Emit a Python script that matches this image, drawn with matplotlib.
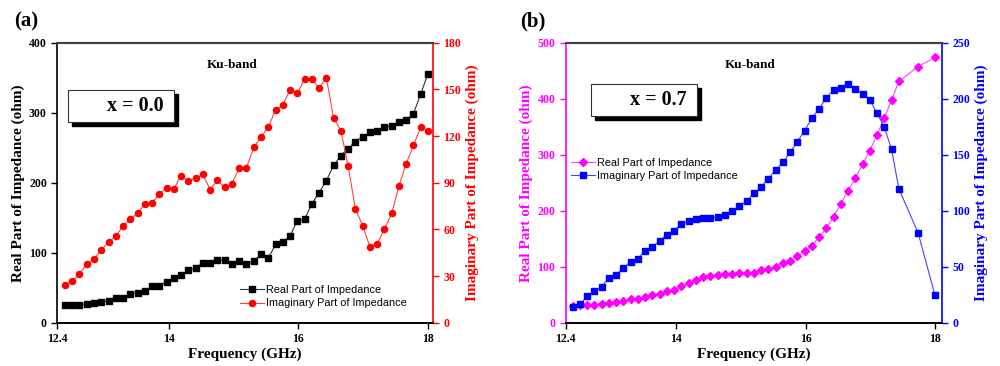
import numpy as np
import matplotlib
matplotlib.use('Agg')
import matplotlib.pyplot as plt
from matplotlib.patches import Rectangle

# frequency grid (GHz)
freq_a = np.linspace(12.4, 18.0, 51)
freq_b = list(np.linspace(12.4, 17.44, 46)) + [17.74, 18.0]

# (a) x = 0.0
real_a = [25, 26, 26, 27, 29, 30, 31, 35, 36, 41, 43, 46, 52, 53, 59, 64, 68,
          75, 78, 86, 86, 89.5, 90, 84, 89, 84, 88, 98, 92, 112, 115, 124,
          146, 148, 170, 186, 203, 225, 239, 249, 259, 266, 272, 274, 280,
          281, 287, 290, 299, 327, 356]
imag_a = [24.2, 26.8, 31.5, 37.5, 41.1, 46.7, 51.9, 55.5, 62.4, 66.6, 70.3,
          76.5, 77.1, 82.9, 86.6, 86.1, 94.7, 90.9, 92.8, 95.4, 85.7, 91.7,
          87, 89.4, 99.6, 99.6, 112.9, 119.4, 125.8, 136.7, 139.9, 149.6,
          147.6, 156.6, 156.6, 150.9, 157.5, 131.6, 123.6, 100.7, 73.3, 62.4,
          48.9, 50.8, 60.2, 70.3, 87.9, 102.4, 114, 126, 123.2]

# (b) x = 0.7
real_b = [29.8, 31, 31, 32.7, 34, 35.7, 36.3, 38.1, 41.7, 42.9, 46.4, 48.8,
          50.6, 56, 58.3, 65.5, 71.4, 75.6, 82.1, 83.9, 85.7, 86.9, 86.9, 88.1,
          89.3, 89.3, 93.5, 95.8, 100, 106.5, 110.7, 119, 128, 137.5, 153,
          168.5, 189.3, 212.5, 235.7, 258.3, 283.3, 307.7, 335.7, 366, 397.6,
          431, 457.7, 473.8]
imag_b = [13.7, 16.4, 23.8, 28, 32.4, 40.2, 42.9, 49.1, 54.5, 57.4, 64.3, 67.6,
          73.2, 78.6, 82.4, 88.4, 90.5, 92.3, 93.2, 93.2, 94.6, 96.1, 99.4,
          103.9, 108.9, 115.5, 121.4, 128.6, 136.6, 143.2, 152.4, 161.6, 171.4,
          182.7, 191.1, 200.9, 208, 210.1, 213.4, 208.6, 204.2, 198.8, 187.2,
          174.7, 155.1, 119.9, 80.1, 24.4]

serif = 'Liberation Serif'
sans = 'Liberation Sans'

fig = plt.figure(figsize=(10, 3.66), dpi=100)


def style_axis(ax, color, side):
    ax.tick_params(axis='y', colors=color, direction='out', length=4, width=1,
                   labelsize=8.5)
    for lab in ax.get_yticklabels():
        lab.set_fontfamily(serif)
        lab.set_fontweight('bold')
    ax.spines[side].set_color(color)
    ax.spines[side].set_linewidth(1.2)


def panel(rect, freq, real, imag, xlim, ylim_l, ylim_r, yt_l, yt_r,
          c_real, c_imag, c_line_real, c_line_imag, m_real, m_imag,
          ms_real, ms_imag, label_l_col, leg_xy, tag, tag_x, ku_x, box):
    ax = fig.add_axes(rect)
    ax2 = ax.twinx()
    l1, = ax.plot(freq, real, color=c_line_real, lw=0.8, marker=m_real,
                  ms=ms_real, mfc=c_real, mec=c_real,
                  label='Real Part of Impedance')
    l2, = ax2.plot(freq, imag, color=c_line_imag, lw=0.8, marker=m_imag,
                   ms=ms_imag, mfc=c_imag, mec=c_imag,
                   label='Imaginary Part of Impedance')
    ax.set_xlim(*xlim)
    ax.set_ylim(*ylim_l)
    ax2.set_ylim(*ylim_r)
    ax.set_yticks(yt_l)
    ax2.set_yticks(yt_r)
    ax.set_xticks([xlim[0], 14, 16, 18])
    ax.set_xticklabels(['12.4', '14', '16', '18'], fontfamily=serif,
                       fontweight='bold', fontsize=8.5)
    ax.tick_params(axis='x', direction='out', length=4, width=1)
    for a in (ax, ax2):
        a.spines['top'].set_color('#404040')
        a.spines['top'].set_linewidth(1.5)
        a.spines['bottom'].set_linewidth(1.2)
    style_axis(ax, label_l_col, 'left')
    style_axis(ax2, c_imag, 'right')
    ax2.spines['left'].set_visible(False)
    ax.spines['right'].set_visible(False)
    ax.set_xlabel('Frequency (GHz)', fontfamily=serif, fontweight='bold',
                  fontsize=11, labelpad=2)
    ax.set_ylabel('Real Part of Impedance (ohm)', fontfamily=serif,
                  fontweight='bold', fontsize=11, color=label_l_col, labelpad=3)
    ax2.set_ylabel('Imaginary Part of Impedance (ohm)', fontfamily=serif,
                   fontweight='bold', fontsize=11, color=c_imag, labelpad=3)
    ax.text(ku_x, 0.92, 'Ku-band', transform=ax.transAxes, ha='center',
            va='center', fontfamily=serif, fontweight='bold', fontsize=9.5)
    ax2.legend(handles=[l1, l2], loc='upper left', bbox_to_anchor=leg_xy,
               bbox_transform=fig.transFigure, frameon=False,
               prop={'family': sans, 'size': 7.8}, handlelength=2.2,
               handletextpad=0.2, borderpad=0, labelspacing=0.3,
               borderaxespad=0)
    fig.text(tag_x, 0.94, tag, fontfamily=serif, fontweight='bold',
             fontsize=15, va='center')
    # x = ... box with shadow (pixel coords from the top-left)
    x0, y0, x1, y1, label = box
    W, H = 1000.0, 366.0
    fig.patches.append(Rectangle((x0 / W + 0.004, 1 - (y1 + 4) / H),
                                 (x1 - x0) / W, (y1 - y0) / H,
                                 transform=fig.transFigure, facecolor='black',
                                 edgecolor='black', zorder=5))
    fig.patches.append(Rectangle((x0 / W, 1 - y1 / H), (x1 - x0) / W,
                                 (y1 - y0) / H, transform=fig.transFigure,
                                 facecolor='white', edgecolor='#333333',
                                 lw=0.8, zorder=6))
    fig.text((x1 - 10) / W, 1 - (y0 + y1) / 2 / H, label, ha='right',
             va='center', fontfamily=serif, fontweight='bold', fontsize=14.5,
             zorder=7)
    return ax, ax2


panel([0.0573, 0.118, 0.3757, 0.765], freq_a, real_a, imag_a,
      (12.282, 18.077), (0, 400), (0, 180), [0, 100, 200, 300, 400],
      [0, 30, 60, 90, 120, 150, 180], 'black', 'red', '#333333', '#ff4040',
      's', 'o', 4.2, 4.4, 'black', (0.240, 0.221), '(a)', 0.014, 0.465,
      (68, 90, 174, 122, 'x = 0.0'))
panel([0.5657, 0.118, 0.3763, 0.765], freq_b, real_b, imag_b,
      (12.292, 18.108), (0, 500), (0, 250), [0, 100, 200, 300, 400, 500],
      [0, 50, 100, 150, 200, 250], '#ff00ff', '#0000ff', '#ff44ff', '#4444ff',
      'D', 's', 4, 4.2, '#ff00ff', (0.571, 0.569), '(b)', 0.520, 0.49,
      (591, 84, 697, 116, 'x = 0.7'))

fig.savefig('out.png', dpi=100)
